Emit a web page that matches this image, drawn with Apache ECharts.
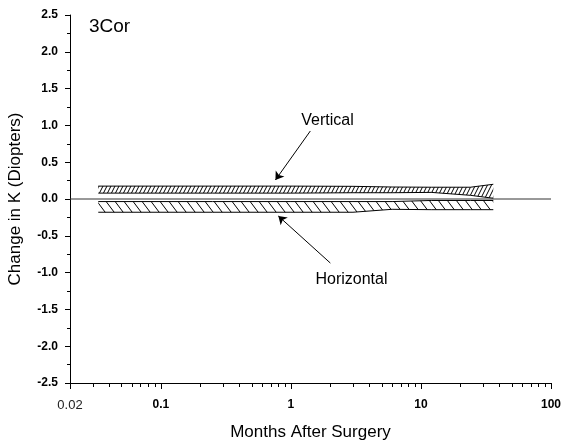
<!DOCTYPE html>
<html>
<head>
<meta charset="utf-8">
<script src="https://cdn.jsdelivr.net/npm/echarts@6/dist/echarts.min.js"></script>
<style>
  html, body { margin: 0; padding: 0; background: #fff; }
  #chart { width: 562px; height: 441px; }
</style>
</head>
<body>
<div id="chart"></div>
<script>
// Follow-up times (months after surgery)
const months = [0.033, 0.25, 1, 3, 6, 12, 24, 36];

// Vertical meridian: limits of the change-in-K band (D)
const verticalUpper = [0.175, 0.175, 0.175, 0.172, 0.163, 0.16, 0.16, 0.2];
const verticalLower = [0.08, 0.08, 0.08, 0.085, 0.085, 0.09, 0.05, 0.01];

// Horizontal meridian: limits of the change-in-K band (D)
const horizontalUpper = [-0.035, -0.035, -0.035, -0.035, -0.035, -0.02, -0.02, -0.02];
const horizontalLower = [-0.18, -0.18, -0.18, -0.18, -0.14, -0.145, -0.145, -0.145];

// Axis ticks
const xMajorTicks = [0.02, 0.1, 1, 10, 100];
const xMinorTicks = [0.03, 0.04, 0.05, 0.06, 0.07, 0.08, 0.09,
                     0.2, 0.3, 0.4, 0.5, 0.6, 0.7, 0.8, 0.9,
                     2, 3, 4, 5, 6, 7, 8, 9,
                     20, 30, 40, 50, 60, 70, 80, 90];
const yMin = -2.5, yMax = 2.5, yStep = 0.5;

// Band names and where their callouts sit (months, dioptres)
const callouts = [
  { text: 'Vertical',   label: [1.91, 1.07],  from: [1.41, 0.924], to: [0.76, 0.258] },
  { text: 'Horizontal', label: [2.92, -1.10], from: [2.01, -0.87], to: [0.80, -0.231] }
];

const FONT = 'Liberation Sans, Arial, sans-serif';

// Diagonal hatch tile used as a repeating fill
function hatch(w, h, dir, lw) {
  const c = document.createElement('canvas');
  c.width = w; c.height = h;
  const g = c.getContext('2d');
  g.strokeStyle = '#000';
  g.lineWidth = lw;
  for (const o of [-w, 0, w]) {
    g.beginPath();
    if (dir === '/') { g.moveTo(o, h); g.lineTo(o + w, 0); }
    else { g.moveTo(o, 0); g.lineTo(o + w, h); }
    g.stroke();
  }
  return { image: c, repeat: 'repeat' };
}

// Hatched band between lower and upper limits, outlined top and bottom
function band(name, upper, lower, fill) {
  return {
    type: 'custom',
    name: name,
    xAxisIndex: 0,
    yAxisIndex: 0,
    silent: true,
    data: months.map((m, i) => [m, lower[i], upper[i]]),
    encode: { x: 0, y: [1, 2] },
    renderItem(params, api) {
      if (params.dataIndex !== 0) return null;
      const top = months.map((m, i) => api.coord([m, upper[i]]));
      const bot = months.map((m, i) => api.coord([m, lower[i]]));
      return {
        type: 'group',
        children: [
          { type: 'polygon', shape: { points: top.concat(bot.slice().reverse()) },
            style: { fill: fill, stroke: null } },
          { type: 'polyline', shape: { points: top },
            style: { stroke: '#000', lineWidth: 1, fill: null } },
          { type: 'polyline', shape: { points: bot },
            style: { stroke: '#000', lineWidth: 1, fill: null } }
        ]
      };
    }
  };
}

const chart = echarts.init(document.getElementById('chart'), null, { renderer: 'canvas' });

chart.setOption({
  animation: false,
  backgroundColor: '#fff',
  textStyle: { fontFamily: FONT },
  title: {
    text: '3Cor',
    left: 89, top: 17, padding: 0,
    textStyle: { fontSize: 19, fontWeight: 'normal', color: '#000', fontFamily: FONT }
  },
  grid: { left: 70, right: 11, top: 15, bottom: 58, outerBoundsMode: 'none', containLabel: false },
  xAxis: [
    {
      type: 'log', logBase: 10, min: 0.02, max: 100, position: 'bottom',
      axisLine: { show: true, onZero: false, lineStyle: { color: '#000', width: 1 } },
      axisTick: { show: true, customValues: xMajorTicks, length: 6, lineStyle: { color: '#000' } },
      axisLabel: {
        show: true, customValues: xMajorTicks, margin: 16, color: '#000',
        formatter: v => (v < 0.05 ? '{n|0.02}' : '{b|' + (+Number(v).toPrecision(3)) + '}'),
        rich: {
          n: { fontSize: 13, fontWeight: 'normal', color: '#222', fontFamily: FONT },
          b: { fontSize: 12, fontWeight: 'bold', color: '#000', fontFamily: FONT }
        }
      },
      splitLine: { show: false },
      minorTick: { show: false },
      name: 'Months After Surgery', nameLocation: 'middle', nameGap: 41,
      nameTextStyle: { fontSize: 17, color: '#000', fontFamily: FONT }
    },
    {
      type: 'log', logBase: 10, min: 0.02, max: 100, position: 'bottom', gridIndex: 0,
      axisLine: { show: false, onZero: false },
      axisTick: { show: true, customValues: xMinorTicks, length: 4, lineStyle: { color: '#000' } },
      axisLabel: { show: false },
      splitLine: { show: false }
    }
  ],
  yAxis: {
    type: 'value', min: yMin, max: yMax, interval: yStep,
    axisLine: { show: true, onZero: false, lineStyle: { color: '#000', width: 1 } },
    axisTick: { show: true, length: 5, lineStyle: { color: '#000' } },
    minorTick: { show: true, splitNumber: 2, length: 3, lineStyle: { color: '#000' } },
    axisLabel: {
      formatter: v => (Math.abs(v) < 1e-9 ? 0 : v).toFixed(1),
      fontSize: 12, fontWeight: 'bold', color: '#000', margin: 12, fontFamily: FONT
    },
    splitLine: { show: false },
    name: 'Change in K (Diopters)', nameLocation: 'middle', nameGap: 46, nameRotate: 90,
    nameTextStyle: { fontSize: 17, color: '#000', fontFamily: FONT }
  },
  series: [
    band('Vertical', verticalUpper, verticalLower, hatch(4, 8, '/', 1)),
    band('Horizontal', horizontalUpper, horizontalLower, hatch(9, 12, '\\', 1)),
    {
      // zero reference line, with the callouts attached
      type: 'line',
      name: 'zero',
      xAxisIndex: 0, yAxisIndex: 0,
      data: [[0.02, 0], [100, 0]],
      showSymbol: false, symbol: 'none', silent: true,
      lineStyle: { color: '#333', width: 1 },
      z: 3,
      markLine: {
        silent: true, animation: false,
        symbol: ['none', 'arrow'], symbolSize: 8,
        lineStyle: { color: '#000', width: 1, type: 'solid' },
        label: { show: false },
        emphasis: { disabled: true },
        data: callouts.map(c => [{ coord: c.from }, { coord: c.to }])
      },
      markPoint: {
        silent: true, animation: false,
        symbol: 'rect', symbolSize: 1,
        itemStyle: { color: 'rgba(0,0,0,0)' },
        label: { show: true, position: 'inside', formatter: '{b}', color: '#000', fontSize: 16, fontFamily: FONT },
        data: callouts.map(c => ({ name: c.text, coord: c.label }))
      }
    }
  ]
});
</script>
</body>
</html>
